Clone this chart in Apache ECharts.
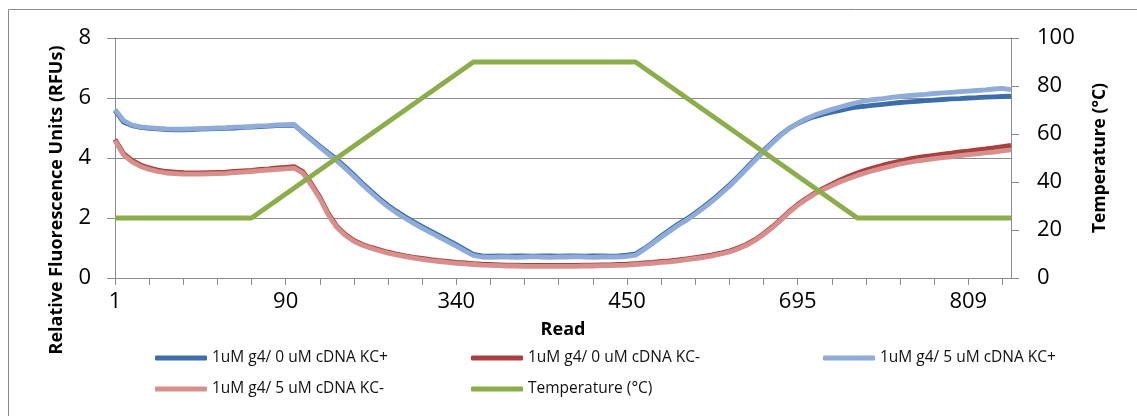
<!DOCTYPE html>
<html>
<head>
    <meta charset="utf-8" />
    <title>Read vs RFU</title>
    <script src="https://cdn.jsdelivr.net/npm/echarts@6/dist/echarts.min.js"></script>
    <style>
        html, body { margin: 0; padding: 0; background: #fff; }
        #chart1 { width: 1137px; height: 416px; }
    </style>
</head>
<body>
    <div id="chart1"></div>
    <script type="text/javascript">
        // tick labels shown on the Read axis (every 20th point)
        var readLabels = ['1', '90', '340', '450', '695', '809'];

        // 1uM g4/ 0 uM cDNA KC+
        var kcPos0 = [
            5.58, 5.20, 5.08, 5.02, 4.99, 4.97, 4.95, 4.94, 4.94, 4.95,
            4.96, 4.97, 4.98, 4.99, 5.00, 5.02, 5.03, 5.05, 5.06, 5.08,
            5.09, 5.10, 4.86, 4.63, 4.40, 4.17, 3.95, 3.70, 3.43, 3.16,
            2.90, 2.65, 2.42, 2.22, 2.04, 1.87, 1.71, 1.56, 1.41, 1.26,
            1.11, 0.95, 0.79, 0.74, 0.73, 0.74, 0.73, 0.74, 0.74, 0.73,
            0.74, 0.74, 0.73, 0.74, 0.74, 0.73, 0.74, 0.74, 0.73, 0.74,
            0.76, 0.80, 0.98, 1.18, 1.40, 1.60, 1.80, 1.97, 2.17, 2.38,
            2.60, 2.85, 3.10, 3.38, 3.67, 3.96, 4.25, 4.52, 4.77, 4.99,
            5.15, 5.28, 5.38, 5.46, 5.53, 5.59, 5.65, 5.70, 5.73, 5.76,
            5.79, 5.82, 5.85, 5.87, 5.89, 5.91, 5.93, 5.95, 5.97, 5.98,
            6.00, 6.01, 6.03, 6.04, 6.05, 6.06
        ];
        // 1uM g4/ 0 uM cDNA KC-
        var kcNeg0 = [
            4.62, 4.15, 3.92, 3.77, 3.67, 3.60, 3.55, 3.53, 3.51, 3.50,
            3.50, 3.51, 3.52, 3.53, 3.55, 3.57, 3.59, 3.62, 3.64, 3.67,
            3.69, 3.71, 3.55, 3.15, 2.70, 2.15, 1.72, 1.45, 1.25, 1.12,
            1.02, 0.94, 0.86, 0.80, 0.74, 0.69, 0.65, 0.61, 0.58, 0.55,
            0.52, 0.50, 0.48, 0.46, 0.45, 0.44, 0.43, 0.43, 0.42, 0.42,
            0.42, 0.42, 0.42, 0.42, 0.42, 0.43, 0.43, 0.44, 0.44, 0.45,
            0.46, 0.48, 0.50, 0.52, 0.55, 0.57, 0.60, 0.64, 0.68, 0.72,
            0.77, 0.83, 0.90, 1.00, 1.12, 1.28, 1.48, 1.70, 1.95, 2.22,
            2.45, 2.65, 2.83, 2.99, 3.13, 3.27, 3.39, 3.50, 3.60, 3.68,
            3.76, 3.83, 3.90, 3.96, 4.01, 4.05, 4.09, 4.13, 4.16, 4.20,
            4.23, 4.27, 4.30, 4.34, 4.38, 4.42
        ];
        // 1uM g4/ 5 uM cDNA KC+
        var kcPos5 = [
            5.62, 5.25, 5.10, 5.04, 5.01, 4.99, 4.97, 4.96, 4.96, 4.97,
            4.98, 4.99, 5.00, 5.01, 5.03, 5.04, 5.05, 5.07, 5.08, 5.10,
            5.11, 5.12, 4.84, 4.60, 4.36, 4.13, 3.90, 3.65, 3.38, 3.11,
            2.85, 2.60, 2.37, 2.17, 1.99, 1.82, 1.66, 1.51, 1.36, 1.21,
            1.06, 0.90, 0.75, 0.70, 0.69, 0.70, 0.70, 0.69, 0.70, 0.71,
            0.70, 0.69, 0.70, 0.70, 0.71, 0.70, 0.69, 0.70, 0.70, 0.70,
            0.72, 0.76, 0.95, 1.15, 1.36, 1.56, 1.76, 1.93, 2.13, 2.34,
            2.56, 2.81, 3.06, 3.34, 3.63, 3.92, 4.21, 4.49, 4.75, 4.98,
            5.16, 5.31, 5.43, 5.53, 5.62, 5.70, 5.78, 5.85, 5.91, 5.95,
            5.98, 6.02, 6.05, 6.08, 6.10, 6.12, 6.15, 6.17, 6.19, 6.21,
            6.23, 6.25, 6.27, 6.30, 6.32, 6.28
        ];
        // 1uM g4/ 5 uM cDNA KC-
        var kcNeg5 = [
            4.58, 4.10, 3.87, 3.72, 3.62, 3.55, 3.50, 3.48, 3.46, 3.46,
            3.46, 3.47, 3.48, 3.49, 3.51, 3.53, 3.55, 3.58, 3.60, 3.62,
            3.64, 3.66, 3.50, 3.10, 2.65, 2.10, 1.68, 1.42, 1.22, 1.09,
            0.99, 0.91, 0.83, 0.77, 0.71, 0.66, 0.62, 0.58, 0.55, 0.52,
            0.49, 0.47, 0.45, 0.43, 0.42, 0.41, 0.40, 0.40, 0.39, 0.39,
            0.39, 0.39, 0.39, 0.39, 0.39, 0.40, 0.40, 0.41, 0.41, 0.42,
            0.43, 0.45, 0.47, 0.49, 0.52, 0.54, 0.57, 0.61, 0.65, 0.69,
            0.74, 0.80, 0.87, 0.97, 1.09, 1.25, 1.45, 1.67, 1.92, 2.19,
            2.42, 2.62, 2.80, 2.95, 3.08, 3.21, 3.32, 3.42, 3.51, 3.59,
            3.66, 3.73, 3.80, 3.85, 3.90, 3.94, 3.98, 4.01, 4.04, 4.08,
            4.11, 4.14, 4.17, 4.20, 4.24, 4.27
        ];
        // Temperature (°C), right axis
        var temperature = [
            25, 25, 25, 25, 25, 25, 25, 25, 25, 25,
            25, 25, 25, 25, 25, 25, 25, 27.5, 30, 32.5,
            35, 37.5, 40, 42.5, 45, 47.5, 50, 52.5, 55, 57.5,
            60, 62.5, 65, 67.5, 70, 72.5, 75, 77.5, 80, 82.5,
            85, 87.5, 90, 90, 90, 90, 90, 90, 90, 90,
            90, 90, 90, 90, 90, 90, 90, 90, 90, 90,
            90, 90, 87.5, 85, 82.5, 80, 77.5, 75, 72.5, 70,
            67.5, 65, 62.5, 60, 57.5, 55, 52.5, 50, 47.5, 45,
            42.5, 40, 37.5, 35, 32.5, 30, 27.5, 25, 25, 25,
            25, 25, 25, 25, 25, 25, 25, 25, 25, 25,
            25, 25, 25, 25, 25, 25
        ];

        var seriesNames = ['1uM g4/ 0 uM cDNA KC+', '1uM g4/ 0 uM cDNA KC-', '1uM g4/ 5 uM cDNA KC+', '1uM g4/ 5 uM cDNA KC-', 'Temperature (°C)'];
        var seriesColors = ['#3d6eaa', '#aa403d', '#8fabd8', '#d78f8d', '#8bad4a'];

        var categories = [];
        for (var i = 0; i < kcPos0.length; i++) {
            categories.push(i % 20 === 0 ? readLabels[i / 20] : '');
        }

        var font = 'Open Sans';
        var axisGray = '#8c8c8c';

        function lineSeries(idx, data, yIndex) {
            return {
                name: seriesNames[idx],
                type: 'line',
                yAxisIndex: yIndex,
                data: data,
                showSymbol: false,
                symbol: 'none',
                color: seriesColors[idx],
                lineStyle: { width: 4.8, color: seriesColors[idx] },
                emphasis: { disabled: true },
                animation: false
            };
        }

        function legendCol(names, left) {
            return {
                data: names,
                left: left,
                top: 345,
                orient: 'vertical',
                itemGap: 15,
                itemWidth: 52,
                itemHeight: 5,
                icon: 'roundRect',
                textStyle: { fontFamily: font, fontSize: 15.5, color: '#111' },
                selectedMode: false
            };
        }

        var myChart1 = echarts.init(document.getElementById('chart1'), null, { renderer: 'canvas' });
        var option = {
            backgroundColor: '#fff',
            animation: false,
            graphic: [{
                type: 'rect',
                shape: { x: 8.5, y: 9.5, width: 1140, height: 420 },
                style: { fill: 'none', stroke: '#8c8c8c', lineWidth: 1 },
                silent: true
            }, {
                // left axis title sits lower than the plot centre, as in the original
                type: 'text',
                x: 57,
                y: 200,
                rotation: Math.PI / 2,
                silent: true,
                style: {
                    text: 'Relative Fluorescence Units (RFUs)',
                    fontFamily: font,
                    fontSize: 18,
                    fontWeight: 'bold',
                    fill: '#000',
                    align: 'center',
                    verticalAlign: 'middle'
                }
            }],
            legend: [
                legendCol([seriesNames[0], seriesNames[3]], 150),
                legendCol([seriesNames[1], seriesNames[4]], 466),
                legendCol([seriesNames[2]], 818)
            ],
            grid: { left: 115, top: 38, width: 896, height: 240 },
            xAxis: {
                type: 'category',
                data: categories,
                boundaryGap: false,
                name: 'Read',
                nameLocation: 'middle',
                nameGap: 43,
                nameTextStyle: { fontFamily: font, fontSize: 18, fontWeight: 'bold', color: '#000' },
                axisLine: { lineStyle: { color: axisGray, width: 1 } },
                axisTick: { show: true, interval: 3, length: 7, lineStyle: { color: axisGray } },
                axisLabel: { interval: 19, margin: 13, fontFamily: font, fontSize: 22, color: '#000' },
                splitLine: { show: false }
            },
            yAxis: [{
                type: 'value',
                min: 0,
                max: 8,
                interval: 2,
                axisLine: { show: true, lineStyle: { color: axisGray } },
                axisTick: { show: true, length: 8, lineStyle: { color: axisGray } },
                axisLabel: { margin: 24, fontFamily: font, fontSize: 22, color: '#000' },
                splitLine: { show: true, lineStyle: { color: axisGray, width: 1 } }
            }, {
                type: 'value',
                min: 0,
                max: 100,
                interval: 20,
                position: 'right',
                name: 'Temperature (°C)',
                nameLocation: 'middle',
                nameGap: 80,
                nameRotate: 90,
                nameTextStyle: { fontFamily: font, fontSize: 17.5, fontWeight: 'bold', color: '#000' },
                axisLine: { show: true, lineStyle: { color: axisGray } },
                axisTick: { show: true, length: 8, lineStyle: { color: axisGray } },
                axisLabel: { margin: 26, fontFamily: font, fontSize: 22, color: '#000' },
                splitLine: { show: false }
            }],
            series: [
                lineSeries(0, kcPos0, 0),
                lineSeries(1, kcNeg0, 0),
                lineSeries(2, kcPos5, 0),
                lineSeries(3, kcNeg5, 0),
                lineSeries(4, temperature, 1)
            ]
        };
        myChart1.setOption(option);
    </script>
</body>
</html>
